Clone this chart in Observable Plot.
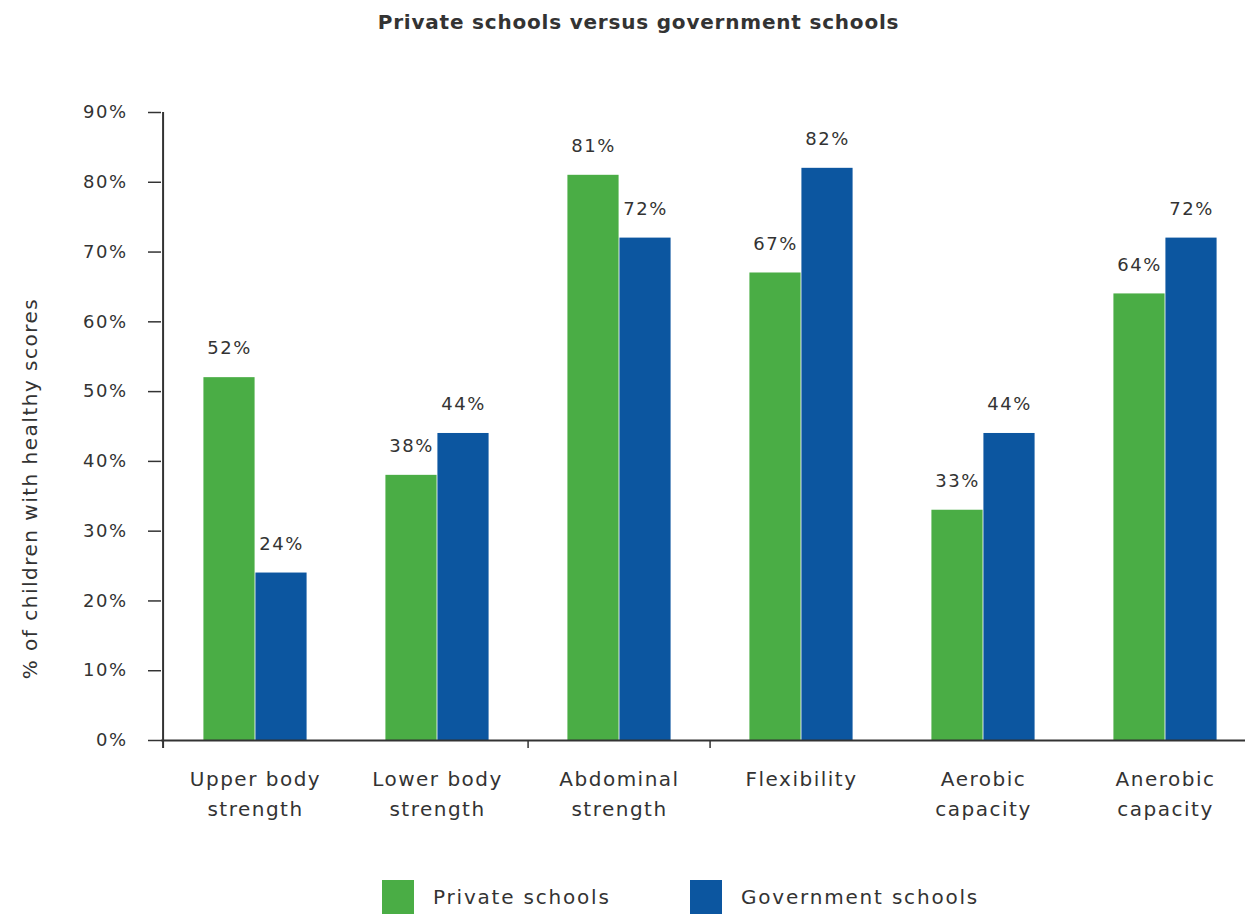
<!DOCTYPE html>
<html><head><meta charset="utf-8">
<script src="https://cdn.jsdelivr.net/npm/d3@7"></script>
<script src="https://cdn.jsdelivr.net/npm/@observablehq/plot@0.6"></script>
<style>
body{margin:0;background:#fff;font-family:"DejaVu Sans",sans-serif;color:#333}
#wrap{position:relative;width:1245px;height:915px;overflow:hidden}
#title{position:absolute;left:16px;top:10px;width:1245px;text-align:center;font-weight:bold;font-size:20px;letter-spacing:0.8px;line-height:24px;color:#333}
#chart{position:absolute;left:0;top:45px}
#legend{position:absolute;top:880px;left:0;width:1245px;height:34px}
.item{position:absolute;top:0;display:flex;align-items:center;font-size:20px;letter-spacing:1.8px;color:#333;height:34px}
.sw{width:32px;height:34px;margin-right:19px}
</style></head>
<body><div id="wrap"><div id="title">Private schools versus government schools</div><div id="chart"></div><div id="legend"></div></div>
<script>
const categories = ["Upper body strength", "Lower body strength", "Abdominal strength", "Flexibility", "Aerobic capacity", "Anerobic capacity"];
const categoryLabels = ["Upper body\nstrength", "Lower body\nstrength", "Abdominal\nstrength", "Flexibility", "Aerobic\ncapacity", "Anerobic\ncapacity"];
const privateSchools = [52, 38, 81, 67, 33, 64];
const governmentSchools = [24, 44, 72, 82, 44, 72];
const yTicks = [0, 10, 20, 30, 40, 50, 60, 70, 80, 90];
const seriesNames = ["Private schools", "Government schools"];
const seriesColors = ["#4aad45", "#0c56a0"];
const tickedBoundaries = ["Abdominal strength", "Flexibility"];

const priv = categories.map((c, i) => ({category: c, value: privateSchools[i]}));
const gov = categories.map((c, i) => ({category: c, value: governmentSchools[i]}));
const labelOf = new Map(categories.map((c, i) => [c, categoryLabels[i]]));

const half = 182.83 / 2;
const barW = 52;
const ink = "#333";

const chart = Plot.plot({
  width: 1245,
  height: 800,
  marginTop: 67,
  marginBottom: 105,
  marginLeft: 161,
  marginRight: 0,
  style: {fontFamily: "DejaVu Sans", fontSize: "18px", letterSpacing: "1.5px", color: ink, background: "white"},
  x: {domain: categories, range: [161, 1258], padding: 0, axis: null},
  y: {domain: [0, 90], axis: null},
  marks: [
    Plot.barY(priv, {x: "category", y: "value", fill: seriesColors[0], insetLeft: half - barW, insetRight: half}),
    Plot.barY(gov, {x: "category", y: "value", fill: seriesColors[1], insetLeft: half, insetRight: half - barW}),
    Plot.text(priv, {x: "category", y: "value", text: d => d.value + "%", dx: -26, dy: -29, fill: ink, fontSize: 18}),
    Plot.text(gov, {x: "category", y: "value", text: d => d.value + "%", dx: 26, dy: -29, fill: ink, fontSize: 18}),
    Plot.axisY({ticks: yTicks, tickSize: 13, tickPadding: 21, tickFormat: d => d + "%", fontSize: 18, stroke: ink, strokeWidth: 1.5, fill: ink, label: null}),
    Plot.text(["% of children with healthy scores"], {frameAnchor: "left", textAnchor: "middle", rotate: -90, dx: -131, dy: 62, fontSize: 20, fill: ink}),
    Plot.ruleY([0], {stroke: ink, strokeWidth: 2}),
    Plot.ruleX([categories[0]], {x: d => d, dx: -half - 1, y1: 0, y2: 90, insetTop: 8, stroke: ink, strokeWidth: 2}),
    Plot.ruleX(tickedBoundaries, {x: d => d, dx: -half, y1: 0, y2: 0, insetBottom: -8, stroke: ink, strokeWidth: 1.5}),
    Plot.axisX({anchor: "bottom", tickSize: 0, tickPadding: 24, tickFormat: d => labelOf.get(d), fontSize: 20, lineHeight: 1.5, lineAnchor: "top", fill: ink, letterSpacing: "2px", label: null})
  ]
});
document.getElementById("chart").appendChild(chart);

const legend = document.getElementById("legend");
const legendLefts = [382, 690];
seriesNames.forEach((name, i) => {
  const item = document.createElement("div");
  item.className = "item";
  item.style.left = legendLefts[i] + "px";
  const sw = document.createElement("div");
  sw.className = "sw";
  sw.style.background = seriesColors[i];
  const t = document.createElement("span");
  t.textContent = name;
  item.appendChild(sw);
  item.appendChild(t);
  legend.appendChild(item);
});
</script>
</body></html>
